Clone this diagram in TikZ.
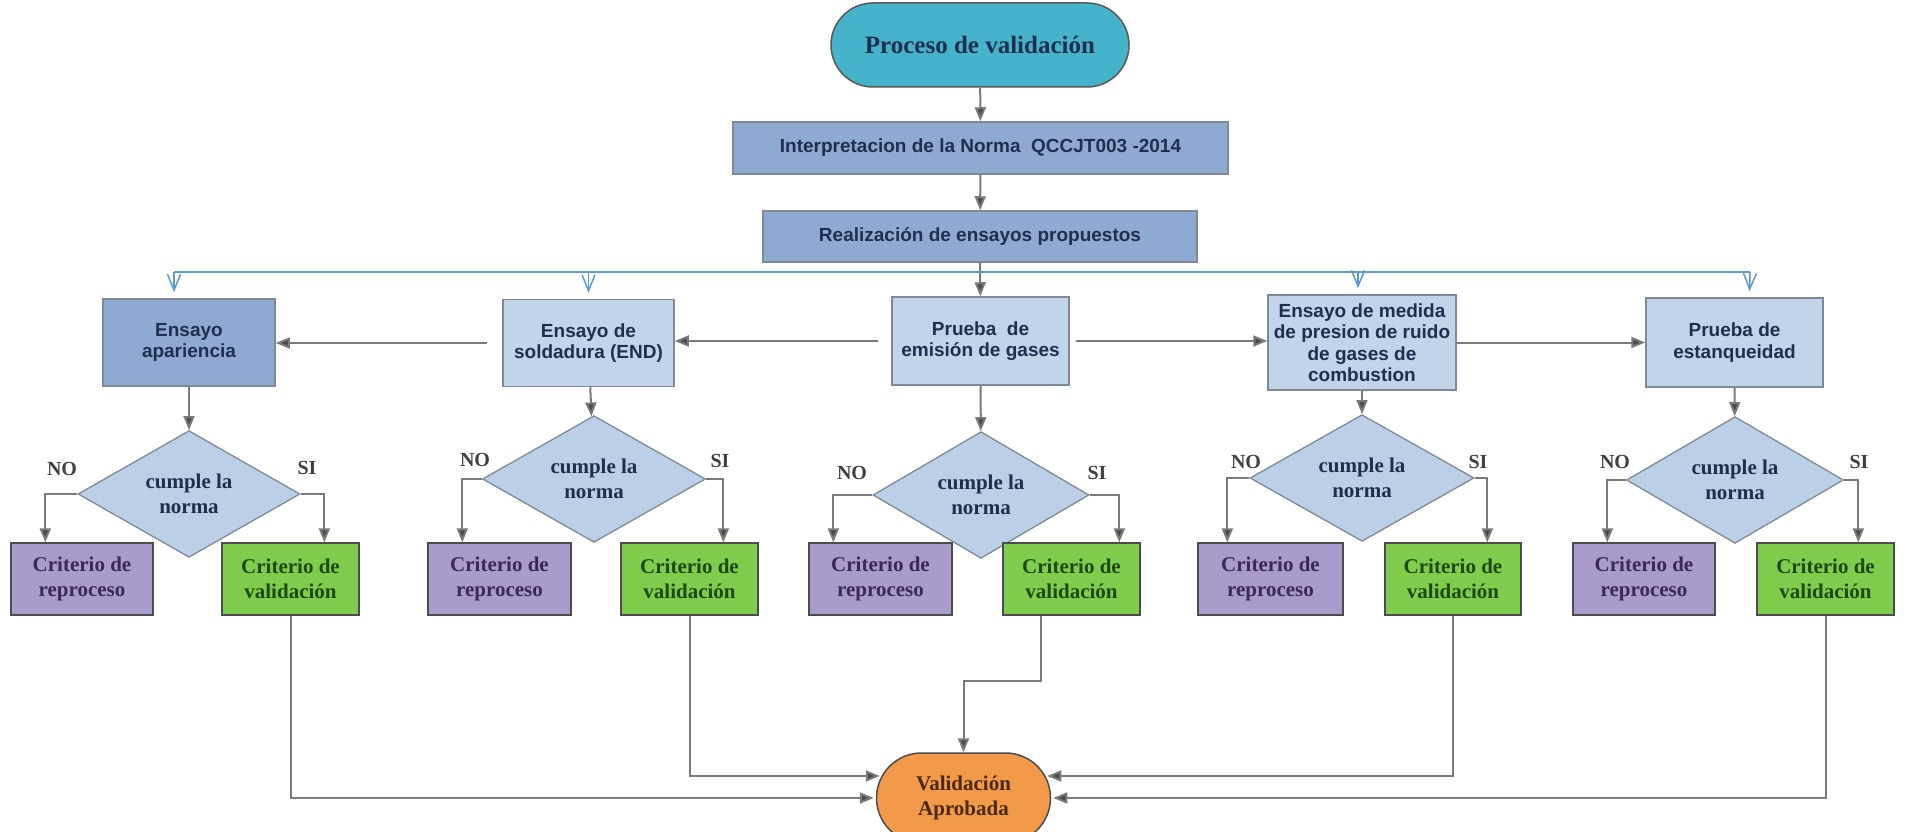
\documentclass[tikz,border=0pt]{standalone}
\usepackage{fontspec}
\setmainfont{Liberation Serif}
\newfontfamily\sansb{Liberation Sans}
\usetikzlibrary{shapes.geometric,arrows.meta,calc}
\definecolor{teal1}{HTML}{45B4CB}
\definecolor{steel}{HTML}{8FAAD2}
\definecolor{lightb}{HTML}{C2D4EA}
\definecolor{diab}{HTML}{BBD0E6}
\definecolor{purp}{HTML}{A99BCB}
\definecolor{grn}{HTML}{80CC4C}
\definecolor{orng}{HTML}{F29A4A}
\definecolor{navy}{HTML}{1F2F4F}
\definecolor{ptext}{HTML}{3B2A55}
\definecolor{gtext}{HTML}{1E4A0E}
\definecolor{otext}{HTML}{4A2A0A}
\definecolor{linegray}{HTML}{7A7A7A}
\definecolor{headgray}{HTML}{4A4A4A}
\definecolor{bluel}{HTML}{5B9BD5}
\definecolor{boxedge}{HTML}{7F8A96}
\begin{document}
\begin{tikzpicture}[x=1pt,y=-1pt,
  every node/.style={inner sep=2pt, align=center},
  sfont/.style={font=\sansb\bfseries\fontsize{19}{21.5}\selectfont},
  rfont/.style={font=\bfseries\fontsize{21}{25}\selectfont},
  headbox/.style={draw=boxedge, line width=1.5pt, fill=steel, text=navy, sfont},
  sbox/.style={draw=boxedge, line width=1.5pt, fill=lightb, text=navy, sfont},
  dia/.style={diamond, draw=boxedge, line width=1.3pt, fill=diab, inner sep=0pt, text=navy, rfont},
  pbox/.style={draw=black!70, line width=1.3pt, fill=purp, text=ptext, rfont, minimum height=72pt},
  gbox/.style={draw=black!70, line width=1.3pt, fill=grn, text=gtext, rfont, minimum height=72pt},
  lbl/.style={text=black!75, font=\bfseries\fontsize{20}{22}\selectfont},
  arr/.style={draw=linegray, line width=2pt, -{Triangle[length=14pt,width=11pt,fill=headgray]}},
  barr/.style={draw=bluel, line width=1.5pt, -{Straight Barb[length=16pt,width=13pt]}}
]
\useasboundingbox (0,0) rectangle (1925,832);
\fill[white] (0,0) rectangle (1925,832);

% top
\node[draw=black!65, line width=1.5pt, fill=teal1, rounded corners=42pt, minimum width=298pt, minimum height=84pt, text=navy, font=\bfseries\fontsize{25}{28}\selectfont] (start) at (980,45) {Proceso de validación};
\node[headbox, minimum width=495pt, minimum height=52pt] (interp) at (980.5,148) {Interpretacion de la Norma\ \ QCCJT003 -2014};
\node[headbox, minimum width=434pt, minimum height=51pt] (real) at (980,236.5) {Realización de ensayos propuestos};

% row of tests
\node[headbox, minimum width=172pt, minimum height=87pt] (b1) at (189,342.5) {Ensayo\\apariencia};
\node[sbox, minimum width=171pt, minimum height=87pt] (b2) at (588.5,343) {Ensayo de\\soldadura (END)};
\node[sbox, minimum width=177pt, minimum height=88pt] (b3) at (980.5,341) {Prueba\ \ de\\emisión de gases};
\node[sbox, minimum width=188pt, minimum height=95pt, inner sep=1pt] (b4) at (1362,342.5) {Ensayo de medida\\de presion de ruido\\de gases de\\combustion};
\node[sbox, minimum width=177pt, minimum height=89pt] (b5) at (1734.5,342.5) {Prueba de\\estanqueidad};

% diamonds
\node[dia, minimum width=222pt, minimum height=101pt] (d1) at (189,494) {cumple la\\norma};
\node[dia, minimum width=223pt, minimum height=100pt] (d2) at (594,479) {cumple la\\norma};
\node[dia, minimum width=216pt, minimum height=101pt] (d3) at (981,495) {cumple la\\norma};
\node[dia, minimum width=224pt, minimum height=101pt] (d4) at (1362,478) {cumple la\\norma};
\node[dia, minimum width=217pt, minimum height=100pt] (d5) at (1735,480) {cumple la\\norma};

% bottom boxes
\node[pbox, minimum width=142pt] (p1) at (82,579) {Criterio de\\reproceso};
\node[gbox, minimum width=137pt] (g1) at (290.5,579) {Criterio de\\validación};
\node[pbox, minimum width=143pt] (p2) at (499.5,579) {Criterio de\\reproceso};
\node[gbox, minimum width=137pt] (g2) at (689.5,579) {Criterio de\\validación};
\node[pbox, minimum width=143pt] (p3) at (880.5,579) {Criterio de\\reproceso};
\node[gbox, minimum width=137pt] (g3) at (1071.5,579) {Criterio de\\validación};
\node[pbox, minimum width=145pt] (p4) at (1270.5,579) {Criterio de\\reproceso};
\node[gbox, minimum width=136pt] (g4) at (1453,579) {Criterio de\\validación};
\node[pbox, minimum width=142pt] (p5) at (1644,579) {Criterio de\\reproceso};
\node[gbox, minimum width=137pt] (g5) at (1825.5,579) {Criterio de\\validación};

% labels
\node[lbl] (no1) at (62,469) {NO};
\node[lbl] (si1) at (307,468) {SI};
\node[lbl] (no2) at (475,460) {NO};
\node[lbl] (si2) at (720,461) {SI};
\node[lbl] (no3) at (852,473) {NO};
\node[lbl] (si3) at (1097,473) {SI};
\node[lbl] (no4) at (1246,462) {NO};
\node[lbl] (si4) at (1478,462) {SI};
\node[lbl] (no5) at (1615,462) {NO};
\node[lbl] (si5) at (1859,462) {SI};

% final
\node[draw=black!70, line width=1.5pt, fill=orng, rounded corners=45pt, minimum width=174pt, minimum height=90pt, text=otext, rfont] (fin) at (963.5,798) {Validación\\Aprobada};

% top arrows
\draw[arr] (start) -- (interp);
\draw[arr] (interp) -- (real);
\draw[arr] (real) -- (b3);

% blue bus
\coordinate (busL) at (174,272);
\coordinate (busR) at (1750,272);
\draw[bluel, line width=1.5pt] (busL) -- (busR);
\draw[barr, shorten >=6pt] (busL) -- ([xshift=-15pt]b1.north);
\draw[barr, shorten >=6pt] (b2.north |- busL) -- (b2.north);
\draw[barr, shorten >=6pt] ([xshift=-4pt]b4.north |- busL) -- ([xshift=-4pt]b4.north);
\draw[barr, shorten >=6pt] (busR) -- ([xshift=15pt]b5.north);

% horizontal arrows between tests
\draw[arr, shorten <=15pt] (b2.west) -- (b2.west -| b1.east);
\draw[arr, shorten <=13pt] (b3.west) -- (b3.west -| b2.east);
\draw[arr, shorten <=6pt] (b3.east) -- (b3.east -| b4.west);
\draw[arr] (b4.east) -- (b4.east -| b5.west);

% test to decision
\draw[arr] (b1) -- (d1);
\draw[arr] (b2) -- (d2);
\draw[arr] (b3) -- (d3);
\draw[arr] (b4) -- (d4);
\draw[arr] (b5) -- (d5);

% branches
\draw[arr] (d1.west) -| ([xshift=35pt]p1.north west);
\draw[arr] (d1.east) -| ([xshift=103pt]g1.north west);
\draw[arr] (d2.west) -| ([xshift=35pt]p2.north west);
\draw[arr] (d2.east) -| ([xshift=103pt]g2.north west);
\draw[arr] (d3.west) -| ([xshift=25pt]p3.north west);
\draw[arr] (d3.east) -| ([xshift=117pt]g3.north west);
\draw[arr] (d4.west) -| ([xshift=30pt]p4.north west);
\draw[arr] (d4.east) -| ([xshift=103pt]g4.north west);
\draw[arr] (d5.west) -| ([xshift=35pt]p5.north west);
\draw[arr] (d5.east) -| ([xshift=102pt]g5.north west);

% to final
\draw[arr] (g1.south) |- ([xshift=-2pt]fin.west);
\draw[arr] (g2.south) |- ([xshift=4pt,yshift=22pt]fin.west);
\draw[arr] ([xshift=-31pt]g3.south) -- ++(0,65) -| (fin.north);
\draw[arr] (g4.south) |- ([xshift=-4pt,yshift=22pt]fin.east);
\draw[arr] (g5.south) |- ([xshift=2pt]fin.east);
\end{tikzpicture}
\end{document}
